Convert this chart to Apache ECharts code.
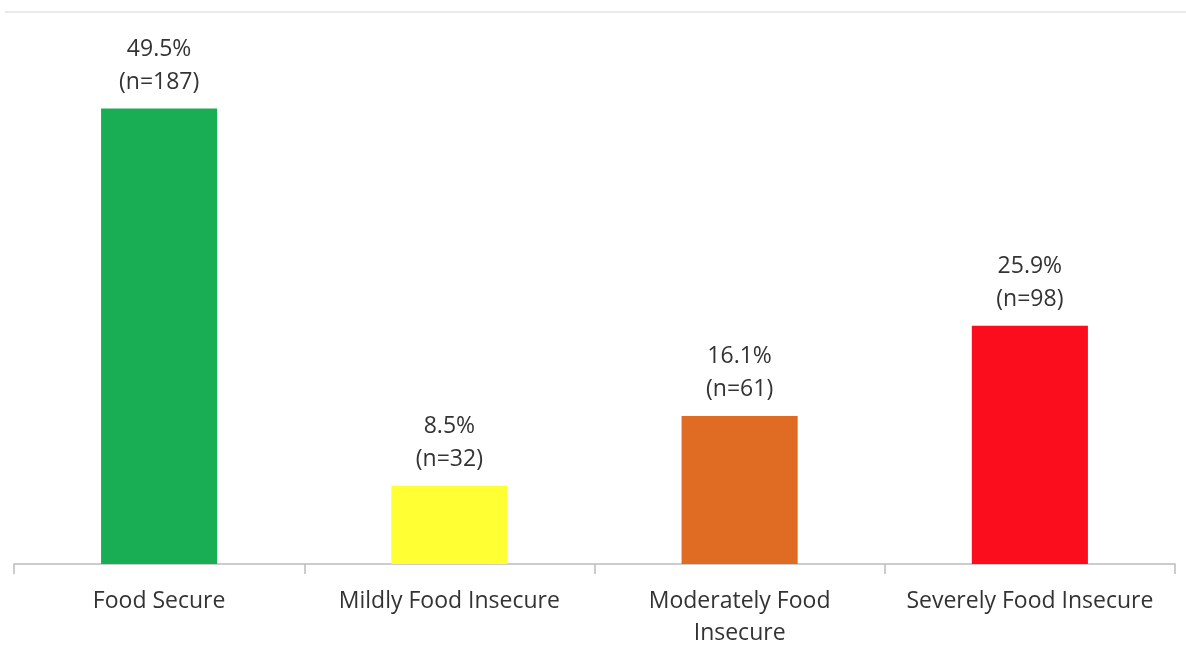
<!DOCTYPE html>
<html>
<head>
<meta charset="utf-8">
<script src="https://cdn.jsdelivr.net/npm/echarts@6/dist/echarts.min.js"></script>
<style>
html,body{margin:0;padding:0;background:#fff;}
#foodChart{width:1186px;height:645px;}
</style>
</head>
<body>
<div id="foodChart"></div>
<script>
// 类别和数据
var categories = ['Food Secure', 'Mildly Food Insecure', 'Moderately Food\nInsecure', 'Severely Food Insecure'];
var percents = [49.5, 8.5, 16.1, 25.9];
var counts = [187, 32, 61, 98];
var barColors = ['#1aae54', '#ffff33', '#e06b22', '#fc0d1e'];

drawFoodChart();

function drawFoodChart(){
    var myChart = echarts.init(document.getElementById('foodChart'));
    var barData = [];
    for (var i = 0; i < percents.length; i++) {
        barData.push({
            value: percents[i],
            itemStyle: { color: barColors[i] }
        });
    }
    var option = {
        animation: false,
        backgroundColor: '#fff',
        textStyle: { fontFamily: 'Open Sans' },
        graphic: [
            {
                type: 'line',
                shape: { x1: 5, y1: 12, x2: 1186, y2: 12 },
                style: { stroke: '#e3e3e3', lineWidth: 1.5 }
            }
        ],
        grid: {
            left: 14,
            right: 11,
            top: 12,
            bottom: 81,
            containLabel: false,
            outerBoundsMode: 'none'
        },
        xAxis: {
            type: 'category',
            data: categories,
            axisLine: { lineStyle: { color: '#bcbcbc', width: 1.5 } },
            axisTick: { show: true, length: 10, lineStyle: { color: '#bcbcbc', width: 1.5 } },
            axisLabel: {
                interval: 0,
                margin: 21,
                fontSize: 23,
                lineHeight: 32,
                color: '#333333'
            }
        },
        yAxis: {
            type: 'value',
            min: 0,
            max: 60,
            show: false
        },
        series: [
            {
                type: 'bar',
                data: barData,
                barWidth: '40%',
                label: {
                    show: true,
                    position: 'top',
                    distance: 10,
                    fontSize: 23,
                    lineHeight: 33,
                    color: '#333333',
                    formatter: function (p) {
                        return percents[p.dataIndex].toFixed(1) + '%\n(n=' + counts[p.dataIndex] + ')';
                    }
                }
            }
        ]
    };
    myChart.setOption(option);
}
</script>
</body>
</html>
